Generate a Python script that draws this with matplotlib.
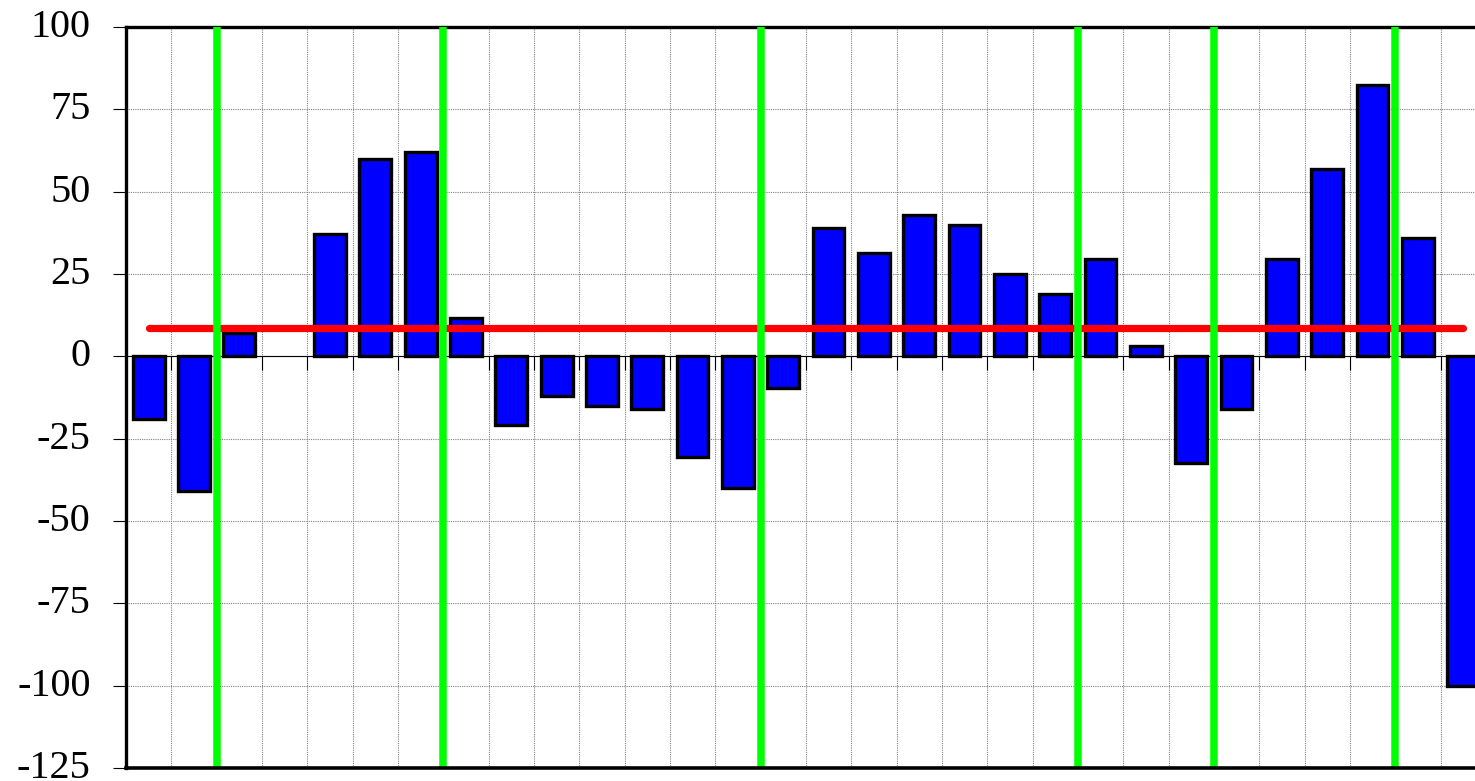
import numpy as np
import matplotlib
matplotlib.use("Agg")
import matplotlib.pyplot as plt
import matplotlib.transforms as mtransforms

#### Data ####
# the 4th category has no bar in the original
values = [-19, -41, 7, np.nan, 37, 60, 62, 11.5, -21, -12,
          -15, -16, -30.5, -40, -9.5, 39, 31.5, 43, 40, 25,
          19, 29.5, 3, -32.5, -16, 29.5, 57, 82.5, 36, -100]
mean_level = 8.5
# green markers sit on the category boundaries (index of bar after the line)
green_after = [2, 7, 14, 21, 24, 28]
yticks = [-125, -100, -75, -50, -25, 0, 25, 50, 75, 100]

n = len(values)
x = np.arange(n)

plt.rcParams['font.family'] = ['Liberation Serif', 'DejaVu Serif']

fig = plt.figure(figsize=(14.75, 7.81), dpi=100)
# plot area runs past the right edge of the picture, like the original
ax = fig.add_axes([126/1475, 13/781, 45.33*n/1475, 741/781])

ax.bar(x, values, width=0.7, color='#0000FF', edgecolor='black', linewidth=2.4, zorder=3)

# mean line
ax.plot([x[0], x[-1]], [mean_level, mean_level], color='#FF0000', lw=5.2,
        solid_capstyle='round', zorder=4)

# green separators
for g in green_after:
    ax.axvline(g - 0.5, color='#00FF00', lw=5.4, zorder=5)

ax.set_xlim(-0.5, n - 0.5)
ax.set_ylim(-125, 100)

# x axis sits on zero, ticks on the category boundaries
bounds = np.arange(n + 1) - 0.5
ax.set_xticks(bounds)
ax.set_xticklabels([])
ax.spines['bottom'].set_position(('data', 0))
ax.spines['bottom'].set_linewidth(0.8)
ax.spines['bottom'].set_zorder(2)
ax.tick_params(axis='x', direction='out', length=10, width=0.8, color='black')

ax.set_yticks(yticks)
ax.set_yticklabels([str(t) for t in yticks], fontsize=29)
ax.tick_params(axis='y', direction='out', length=9.5, width=0.8, pad=16)
# labels sit a little above their ticks in the original
shift = mtransforms.ScaledTranslation(0, 4/100, fig.dpi_scale_trans)
for lab in ax.get_yticklabels():
    lab.set_transform(lab.get_transform() + shift)

# frame: thick left, top and a bottom border at -125
ax.spines['left'].set_linewidth(2.4)
ax.spines['top'].set_linewidth(2.4)
ax.spines['right'].set_visible(False)
ax.axhline(-125, color='black', lw=2.6, clip_on=False, zorder=6)

ax.grid(True, color='#808080', linestyle=(0, (1, 1)), linewidth=0.8, zorder=0)
ax.set_axisbelow(True)

fig.savefig('out.png', dpi=100)
